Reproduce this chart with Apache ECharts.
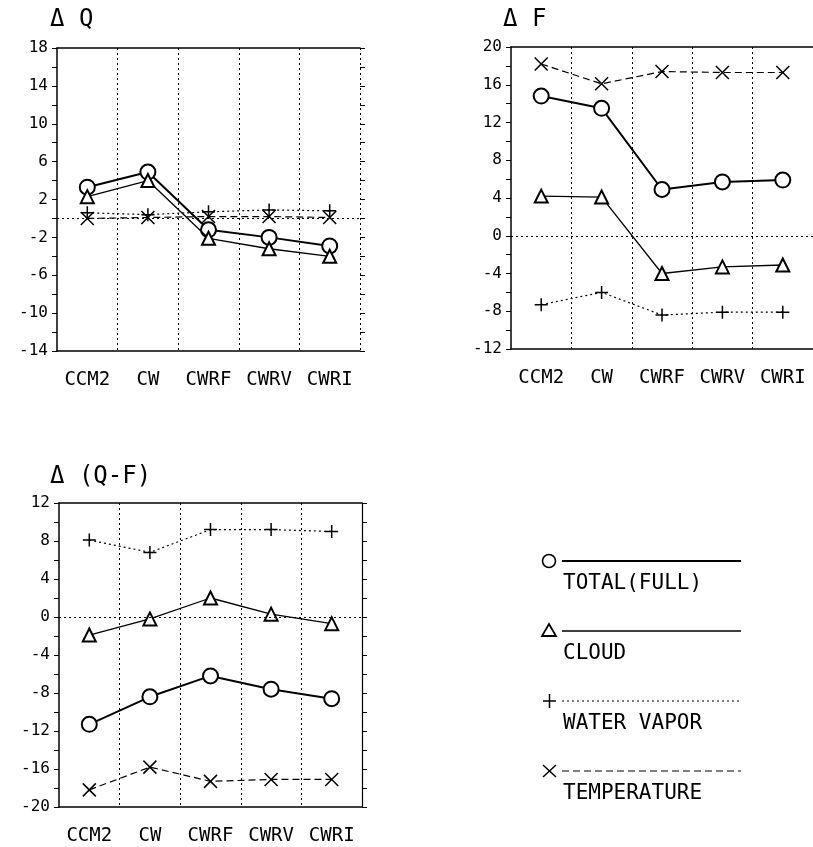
<!DOCTYPE html>
<html lang="en">
<head>
<meta charset="UTF-8">
<title>Delta Q, Delta F, Delta (Q-F)</title>
<script src="https://cdn.jsdelivr.net/npm/echarts@6/dist/echarts.min.js"></script>
<style>
    html, body { margin: 0; padding: 0; background: #fff; }
    #chart { width: 813px; height: 847px; }
</style>
</head>
<body>
<div id="chart"></div>
<script>
    // experiments along the x axis
    const cats = ['CCM2', 'CW', 'CWRF', 'CWRV', 'CWRI'];

    // delta Q
    const dqTotal = [3.3, 4.9, -1.2, -2.0, -2.9];
    const dqCloud = [2.3, 4.0, -2.1, -3.2, -4.0];
    const dqVapor = [0.6, 0.4, 0.7, 0.9, 0.8];
    const dqTemp  = [0.0, 0.1, 0.2, 0.2, 0.1];

    // delta F
    const dfTotal = [14.8, 13.5, 4.9, 5.7, 5.9];
    const dfCloud = [4.2, 4.1, -4.0, -3.3, -3.1];
    const dfVapor = [-7.3, -6.0, -8.4, -8.1, -8.1];
    const dfTemp  = [18.2, 16.1, 17.4, 17.3, 17.3];

    // delta (Q-F)
    const dqfTotal = [-11.3, -8.4, -6.2, -7.6, -8.6];
    const dqfCloud = [-1.9, -0.2, 2.0, 0.3, -0.7];
    const dqfVapor = [8.1, 6.8, 9.2, 9.2, 9.0];
    const dqfTemp  = [-18.2, -15.8, -17.3, -17.1, -17.1];

    const seriesNames = ['TOTAL(FULL)', 'CLOUD', 'WATER VAPOR', 'TEMPERATURE'];

    const FONT = "'DejaVu Sans Mono', 'Liberation Mono', monospace";
    const PLUS = 'path://M0,5L10,5M5,0L5,10';
    const CROSS = 'path://M0,0L10,10M10,0L0,10';

    const chart = echarts.init(document.getElementById('chart'));

    const panels = [
        { title: 'Δ Q', grid: { left: 57, top: 48, width: 303, height: 303 }, min: -14, max: 18,
          data: [dqTotal, dqCloud, dqVapor, dqTemp], rightAxis: true, rightLine: false, tx: 50, ty: 20 },
        { title: 'Δ F', grid: { left: 511, top: 47, width: 304, height: 302 }, min: -12, max: 20,
          data: [dfTotal, dfCloud, dfVapor, dfTemp], rightAxis: false, rightLine: false, tx: 503, ty: 20 },
        { title: 'Δ (Q-F)', grid: { left: 59, top: 503, width: 303, height: 304 }, min: -20, max: 12,
          data: [dqfTotal, dqfCloud, dqfVapor, dqfTemp], rightAxis: true, rightLine: true, tx: 50, ty: 477 }
    ];

    const styles = [
        { symbol: 'emptyCircle', size: 15, width: 2, type: 'solid' },
        { symbol: 'emptyTriangle', size: 13, width: 1.3, type: 'solid' },
        { symbol: PLUS, size: 13, width: 1.2, type: [2, 3] },
        { symbol: CROSS, size: 13, width: 1.2, type: [7, 4] }
    ];

    const zeroStyle = { color: '#000', type: [2, 3], width: 1 };

    const grids = [], xAxes = [], yAxes = [], series = [], graphics = [];

    panels.forEach((p, i) => {
        grids.push(p.grid);
        xAxes.push({
            type: 'category', data: cats, gridIndex: i, boundaryGap: true,
            axisLine: { onZero: false, lineStyle: { color: '#000', width: 1.5 } },
            axisTick: { show: false },
            axisLabel: { interval: 0, color: '#000', fontFamily: FONT, fontSize: 19, margin: 20 },
            splitLine: { show: true, interval: 0, showMinLine: false, showMaxLine: !p.rightLine,
                         lineStyle: { color: '#000', type: [2, 3], width: 1 } }
        });
        // top border
        xAxes.push({
            type: 'category', data: cats, gridIndex: i, position: 'top',
            axisLine: { onZero: false, lineStyle: { color: '#000', width: 1.5 } },
            axisTick: { show: false }, axisLabel: { show: false }, splitLine: { show: false }
        });
        const yBase = {
            type: 'value', gridIndex: i, min: p.min, max: p.max, interval: 4,
            splitLine: { show: false }
        };
        yAxes.push(Object.assign({}, yBase, {
            position: 'left',
            axisLine: { show: true, onZero: false, lineStyle: { color: '#000', width: 1.5 } },
            axisTick: { show: true, length: 5, lineStyle: { color: '#000' } },
            minorTick: { show: true, splitNumber: 2, length: 5, lineStyle: { color: '#000' } },
            axisLabel: { color: '#000', fontFamily: FONT, fontSize: 16, margin: 9 }
        }));
        yAxes.push(Object.assign({}, yBase, {
            position: 'right',
            axisLine: { show: p.rightLine, onZero: false, lineStyle: { color: '#000', width: 1.2 } },
            axisTick: { show: p.rightAxis, length: 5, lineStyle: { color: '#000' } },
            minorTick: { show: p.rightAxis, splitNumber: 2, length: 5, lineStyle: { color: '#000' } },
            axisLabel: { show: false }
        }));

        // dotted zero reference line, as its own empty series
        series.push({
            type: 'line', data: [], xAxisIndex: i * 2, yAxisIndex: i * 2, silent: true, z: 2,
            markLine: {
                silent: true, symbol: 'none', label: { show: false },
                lineStyle: zeroStyle,
                emphasis: { disabled: true, lineStyle: zeroStyle },
                data: [{ yAxis: 0, lineStyle: zeroStyle }]
            }
        });

        p.data.forEach((vals, k) => {
            const s = styles[k];
            series.push({
                name: seriesNames[k], type: 'line', data: vals,
                xAxisIndex: i * 2, yAxisIndex: i * 2,
                symbol: s.symbol, symbolSize: s.size, showAllSymbol: true,
                lineStyle: { color: '#000', width: s.width, type: s.type },
                itemStyle: { color: '#000', borderColor: '#000', borderWidth: 1.5 },
                z: 3 + k
            });
        });

        graphics.push({
            type: 'text', left: p.tx, top: p.ty - 12,
            style: { text: p.title, font: '24px ' + FONT, fill: '#000' }
        });
    });

    // legend drawn as plain shapes: marker, line to the right, label underneath
    const legendRows = [
        { y: 561, dash: 'solid', width: 1.8 },
        { y: 631, dash: 'solid', width: 1.3 },
        { y: 701, dash: [2, 3], width: 1.2 },
        { y: 771, dash: [7, 4], width: 1.2 }
    ];
    legendRows.forEach((r, k) => {
        graphics.push({
            type: 'line', shape: { x1: 562, y1: r.y, x2: 741, y2: r.y },
            style: { stroke: '#000', lineWidth: r.width, lineDash: r.dash === 'solid' ? null : r.dash }
        });
        let mark;
        if (k === 0) {
            mark = { type: 'circle', shape: { cx: 549, cy: r.y, r: 6.5 }, style: { fill: '#fff', stroke: '#000', lineWidth: 1.6 } };
        } else if (k === 1) {
            mark = { type: 'polygon', shape: { points: [[549, r.y - 7], [542, r.y + 5], [556, r.y + 5]] },
                     style: { fill: '#fff', stroke: '#000', lineWidth: 1.8 } };
        } else if (k === 2) {
            mark = { type: 'group', children: [
                { type: 'line', shape: { x1: 543, y1: r.y, x2: 556, y2: r.y }, style: { stroke: '#000', lineWidth: 1.5 } },
                { type: 'line', shape: { x1: 549.5, y1: r.y - 7, x2: 549.5, y2: r.y + 7 }, style: { stroke: '#000', lineWidth: 1.5 } }
            ] };
        } else {
            mark = { type: 'group', children: [
                { type: 'line', shape: { x1: 543, y1: r.y - 6, x2: 556, y2: r.y + 6 }, style: { stroke: '#000', lineWidth: 1.5 } },
                { type: 'line', shape: { x1: 543, y1: r.y + 6, x2: 556, y2: r.y - 6 }, style: { stroke: '#000', lineWidth: 1.5 } }
            ] };
        }
        graphics.push(mark);
        graphics.push({
            type: 'text', left: 563, top: r.y + 12,
            style: { text: seriesNames[k], font: '21px ' + FONT, fill: '#000' }
        });
    });

    chart.setOption({
        animation: false,
        backgroundColor: '#fff',
        grid: grids,
        xAxis: xAxes,
        yAxis: yAxes,
        series: series,
        graphic: graphics
    });
</script>
</body>
</html>
